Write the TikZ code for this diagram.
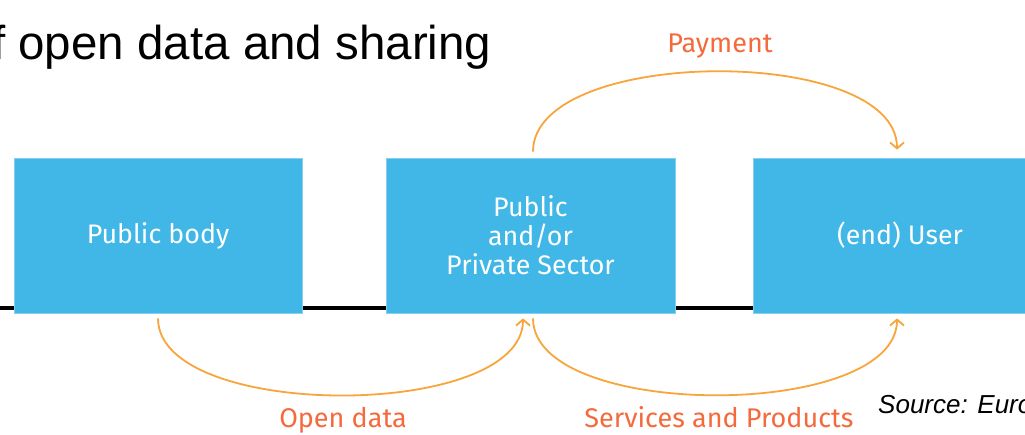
\documentclass[tikz,border=0pt]{standalone}
\usepackage{fontspec}
\setmainfont{Fira Sans}
\newfontfamily\arialfont{Liberation Sans}
\usetikzlibrary{arrows.meta}
\definecolor{boxblue}{HTML}{40B7E6}
\definecolor{boxedge}{HTML}{86CFEE}
\definecolor{arroworange}{HTML}{F8A53C}
\definecolor{labelorange}{HTML}{F46A3C}
\begin{document}
\begin{tikzpicture}[x=1pt,y=1pt,
  entity/.style={rectangle, fill=boxblue, draw=boxedge, line width=0.8pt,
    minimum height=155pt, inner sep=0pt, text=white,
    font=\fontsize{26.8}{29}\selectfont, align=center},
  flow/.style={draw=arroworange, line width=1.8pt,
    -{Straight Barb[length=6pt,width=14pt,line width=1.8pt]}},
  flowlabel/.style={text=labelorange, font=\fontsize{27}{30}\selectfont,
    inner sep=0pt, anchor=base}
]
\useasboundingbox (0,0) rectangle (1025,434);
\clip (0,0) rectangle (1025,434);
\fill[white] (0,0) rectangle (1025,434);

\node[anchor=base west, inner sep=0pt,
  font=\arialfont\fontsize{47.5}{57}\selectfont] (title) at (-8,374)
  {f open data and sharing};

\coordinate (rl) at (0,126);
\coordinate (rr) at (1025,126);
\draw[line width=3pt, black] (rl) -- (rr);

\node[entity, minimum width=288pt] (pb) at (158,198.5) {Public body};
\node[entity, minimum width=289pt] (ps) at (530.5,198.5) {Public\\and/or\\Private Sector};
\node[entity, minimum width=294pt] (eu) at (900,198.5) {(end) User};

\coordinate (payS) at ([shift={(2.5,6)}]ps.north);
\coordinate (payE) at ([shift={(-3,8)}]eu.north);
\draw[flow] (payS) to[out=90,in=90,looseness=0.74] (payE);

\coordinate (odS) at ([shift={(0,-5)}]pb.south);
\coordinate (odE) at ([shift={(-7.5,-5)}]ps.south);
\draw[flow] (odS) to[out=-90,in=-90,looseness=0.72] (odE);

\coordinate (spS) at ([shift={(2.5,-5)}]ps.south);
\coordinate (spE) at ([shift={(-3,-5)}]eu.south);
\draw[flow] (spS) to[out=-90,in=-90,looseness=0.72] (spE);

\node[flowlabel] (payl) at (720,381) {Payment};
\node[flowlabel] (odl) at (343,7) {Open data};
\node[flowlabel] (spl) at (719,7) {Services and Products};

\node[anchor=base west, inner sep=0pt,
  font=\arialfont\itshape\fontsize{26}{31}\selectfont] (src) at (878,21)
  {Source: Euro};
\end{tikzpicture}
\end{document}
